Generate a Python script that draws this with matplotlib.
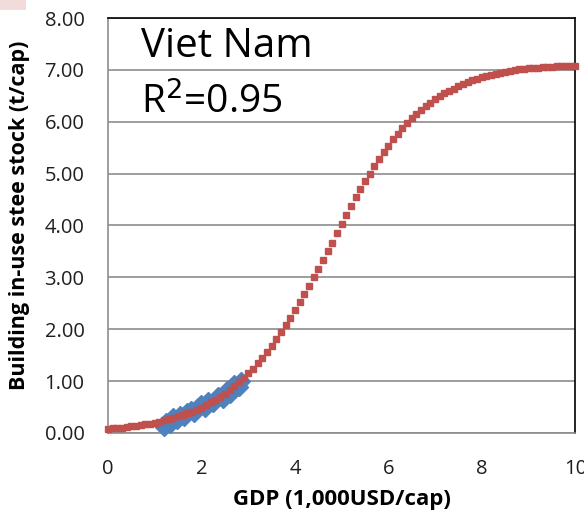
import numpy as np
import matplotlib.pyplot as plt
from matplotlib.patches import Rectangle

plt.rcParams["font.family"] = ["Open Sans", "DejaVu Sans"]

# fitted curve (GDP in 1,000 USD/cap, stock in t/cap)
fit_gdp = [round(0.1 * i, 1) for i in range(101)]
fit_stock = [
    0.08, 0.09, 0.09, 0.10, 0.11, 0.13, 0.14, 0.15, 0.17, 0.18,
    0.20, 0.22, 0.24, 0.26, 0.29, 0.32, 0.35, 0.38, 0.41, 0.45,
    0.49, 0.54, 0.59, 0.64, 0.70, 0.76, 0.83, 0.90, 0.98, 1.06,
    1.15, 1.24, 1.35, 1.45, 1.56, 1.68, 1.81, 1.94, 2.08, 2.22,
    2.37, 2.52, 2.67, 2.83, 3.00, 3.16, 3.33, 3.50, 3.67, 3.85,
    4.03, 4.20, 4.37, 4.54, 4.70, 4.85, 5.00, 5.15, 5.29, 5.42,
    5.54, 5.66, 5.77, 5.88, 5.98, 6.07, 6.15, 6.23, 6.30, 6.37,
    6.44, 6.49, 6.55, 6.60, 6.64, 6.69, 6.73, 6.76, 6.80, 6.83,
    6.86, 6.88, 6.91, 6.93, 6.95, 6.96, 6.98, 6.99, 7.01, 7.02,
    7.03, 7.04, 7.04, 7.05, 7.06, 7.06, 7.07, 7.07, 7.08, 7.08,
    7.08,
]

# observed points
obs_gdp = [1.20, 1.25, 1.32, 1.40, 1.48, 1.55, 1.62, 1.70, 1.78, 1.85, 1.92,
           2.00, 2.08, 2.15, 2.25, 2.35, 2.45, 2.55, 2.62, 2.70, 2.80, 2.85]
obs_stock = [0.12, 0.22, 0.18, 0.30, 0.25, 0.35, 0.30, 0.40, 0.45, 0.38, 0.50,
             0.55, 0.48, 0.62, 0.58, 0.72, 0.65, 0.82, 0.75, 0.95, 0.88, 1.00]

fig = plt.figure(figsize=(5.84, 5.16), dpi=100)
ax = fig.add_axes([0.185, 0.161, 0.8, 0.804])

fig.patches.append(Rectangle((0, 0.981), 0.045, 0.019, transform=fig.transFigure,
                             facecolor="#f2dcdb", edgecolor="none"))

ax.plot(obs_gdp, obs_stock, "D", color="#4f81bd", ms=9, mec="#4f81bd",
        zorder=3, clip_on=False)
ax.plot(fit_gdp, fit_stock, "s", color="#c0504d", ms=5, mec="#c0504d",
        zorder=4, clip_on=False)

ax.set_xlim(0, 10)
ax.set_ylim(0, 8)
ax.set_xticks([0, 2, 4, 6, 8, 10])
ax.set_yticks(np.arange(0, 9, 1))
ax.set_yticklabels([f"{v:.2f}" for v in np.arange(0, 9, 1)])
ax.tick_params(length=0, labelsize=14.5, colors="#1f1f1f")
ax.tick_params(axis="y", pad=17)
ax.tick_params(axis="x", pad=19)
ax.yaxis.grid(True, color="#8c8c8c", lw=1.2)
ax.set_axisbelow(True)

for s in ["left", "bottom"]:
    ax.spines[s].set_color("#8c8c8c")
    ax.spines[s].set_linewidth(1.2)
for s in ["top", "right"]:
    ax.spines[s].set_color("black")
    ax.spines[s].set_linewidth(1.2)

ax.set_xlabel("GDP (1,000USD/cap)", fontsize=16, fontweight="bold", labelpad=7)
ax.set_ylabel("Building in-use stee stock (t/cap)", fontsize=15.5,
              fontweight="bold")
ax.yaxis.set_label_coords(-0.168, 0.525)

ax.text(0.07, 0.932, "Viet Nam", transform=ax.transAxes, fontsize=29,
        va="center", ha="left")
ax.text(0.07, 0.797, "R$^2$=0.95", transform=ax.transAxes, fontsize=28,
        va="center", ha="left")

fig.savefig("out.png", dpi=100)
